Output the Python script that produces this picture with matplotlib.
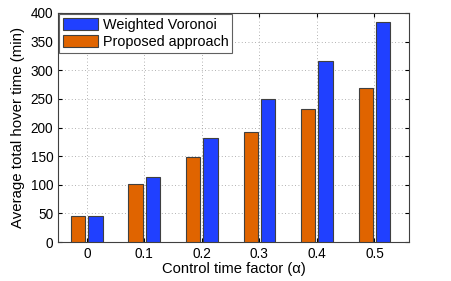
import numpy as np
import matplotlib.pyplot as plt

plt.rcParams['font.family'] = ['Liberation Sans', 'DejaVu Sans']

# data
alphas = ['0', '0.1', '0.2', '0.3', '0.4', '0.5']
proposed = [45, 102, 149, 192, 232, 269]
voronoi = [45, 113, 181, 250, 316, 385]

blue = '#2040ff'
orange = '#e06400'

fig = plt.figure(figsize=(4.52, 2.81), dpi=100)
ax = fig.add_axes([58/452, 1 - 242/281, (409-58)/452, (242-13)/281])

x = np.arange(len(alphas))
w = 0.25
ax.bar(x + 0.15, voronoi, w, color=blue, edgecolor='#404040', linewidth=0.8,
       label='Weighted Voronoi', zorder=3)
ax.bar(x - 0.15, proposed, w, color=orange, edgecolor='#404040', linewidth=0.8,
       label='Proposed approach', zorder=3)

ax.set_xlim(-0.5, 5.6)
ax.set_ylim(0, 400)
ax.set_xticks(x)
ax.set_xticklabels(alphas)
ax.set_yticks(np.arange(0, 401, 50))
ax.grid(True, linestyle=(0, (1, 3)), color='#999999', linewidth=0.6, zorder=0)
ax.tick_params(direction='in', top=True, right=True, labelsize=9.8, length=3)
for s in ax.spines.values():
    s.set_color('#404040')

ax.set_xlabel('Control time factor (α)', fontsize=10.6, labelpad=1)
ax.set_ylabel('Average total hover time (min)', fontsize=10.8, labelpad=4)

leg = ax.legend(loc='upper left', fontsize=10.4, fancybox=False, framealpha=1,
                edgecolor='#606060', borderaxespad=0.1, handlelength=2.4,
                handleheight=0.85, handletextpad=0.35, borderpad=0.25,
                labelspacing=0.2)
leg.get_frame().set_linewidth(0.8)

fig.savefig('out.png', dpi=100)
